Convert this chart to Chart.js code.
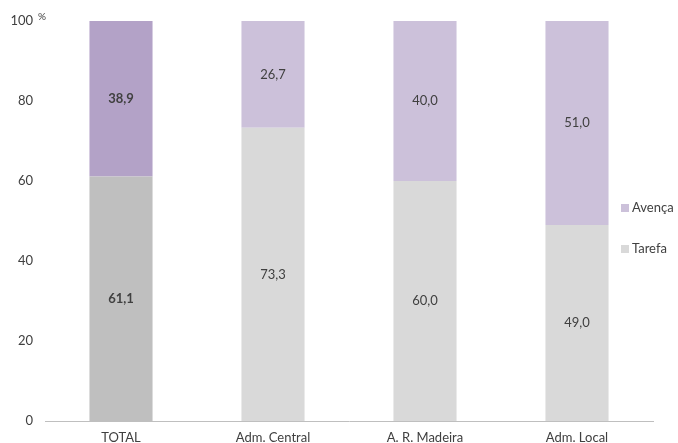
<!DOCTYPE html>
<html>
<head>
<meta charset="utf-8">
<script src="https://cdn.jsdelivr.net/npm/chart.js@4/dist/chart.umd.min.js"></script>
<style>
  html, body { margin: 0; padding: 0; background: #fff; }
  #wrap { position: relative; width: 678px; height: 443px; }
</style>
</head>
<body>
<div id="wrap"><canvas id="c" width="678" height="443"></canvas></div>
<script>
const categories = ["TOTAL", "Adm. Central", "A. R. Madeira", "Adm. Local"];
const tarefa = [61.1, 73.3, 60.0, 49.0];
const avenca = [38.9, 26.7, 40.0, 51.0];
const yTicks = [0, 20, 40, 60, 80, 100];
const seriesNames = ["Tarefa", "Avença"];

const tarefaColors = ["#bfbfbf", "#d9d9d9", "#d9d9d9", "#d9d9d9"];
const avencaColors = ["#b3a2c7", "#ccc1da", "#ccc1da", "#ccc1da"];
const FONT = "Lato, 'Open Sans', sans-serif";
const TXT = "#404040";

const fmt = v => v.toFixed(1).replace(".", ",");

const labelsPlugin = {
  id: "valueLabels",
  afterDatasetsDraw(chart) {
    const ctx = chart.ctx;
    ctx.save();
    ctx.textAlign = "center";
    ctx.textBaseline = "middle";
    ctx.fillStyle = TXT;
    chart.data.datasets.forEach((ds, di) => {
      const meta = chart.getDatasetMeta(di);
      meta.data.forEach((bar, i) => {
        const bold = i === 0;
        ctx.font = (bold ? "bold " : "") + "13px " + FONT;
        const y = (bar.y + bar.base) / 2;
        ctx.fillText(fmt(ds.data[i]), bar.x, y);
      });
    });
    ctx.restore();
  },
  afterDraw(chart) {
    const ctx = chart.ctx;
    ctx.save();
    ctx.font = "10px " + FONT;
    ctx.fillStyle = TXT;
    ctx.textAlign = "left";
    ctx.textBaseline = "middle";
    ctx.fillText("%", 38, 17);
    const items = [
      { name: seriesNames[1], color: avencaColors[1], y: 208 },
      { name: seriesNames[0], color: tarefaColors[1], y: 249 }
    ];
    ctx.font = "13px " + FONT;
    items.forEach(it => {
      ctx.fillStyle = it.color;
      ctx.fillRect(621, it.y - 4, 8, 8);
      ctx.fillStyle = TXT;
      ctx.fillText(it.name, 632, it.y);
    });
    ctx.restore();
  }
};

new Chart(document.getElementById("c"), {
  type: "bar",
  data: {
    labels: categories,
    datasets: [
      { label: seriesNames[0], data: tarefa, backgroundColor: tarefaColors, borderWidth: 0 },
      { label: seriesNames[1], data: avenca, backgroundColor: avencaColors, borderWidth: 0 }
    ]
  },
  options: {
    responsive: false,
    animation: false,
    devicePixelRatio: 1,
    layout: { padding: { top: 21, right: 25, left: 0, bottom: 0 } },
    plugins: { legend: { display: false }, tooltip: { enabled: false } },
    datasets: { bar: { categoryPercentage: 1, barPercentage: 0.415 } },
    scales: {
      x: {
        stacked: true,
        grid: { display: false, drawTicks: false },
        border: { display: true, color: "#bfbfbf", width: 1 },
        ticks: { color: TXT, font: { family: FONT, size: 13 }, padding: 9, maxRotation: 0 },
        afterFit(s) { s.height = 22; }
      },
      y: {
        stacked: true,
        min: 0, max: 100,
        afterBuildTicks(s) { s.ticks = yTicks.map(v => ({ value: v })); },
        grid: { display: false, drawTicks: false },
        border: { display: false },
        ticks: { color: TXT, font: { family: FONT, size: 13 }, padding: 12 },
        afterFit(s) { s.width = 45; }
      }
    }
  },
  plugins: [labelsPlugin]
});
</script>
</body>
</html>
